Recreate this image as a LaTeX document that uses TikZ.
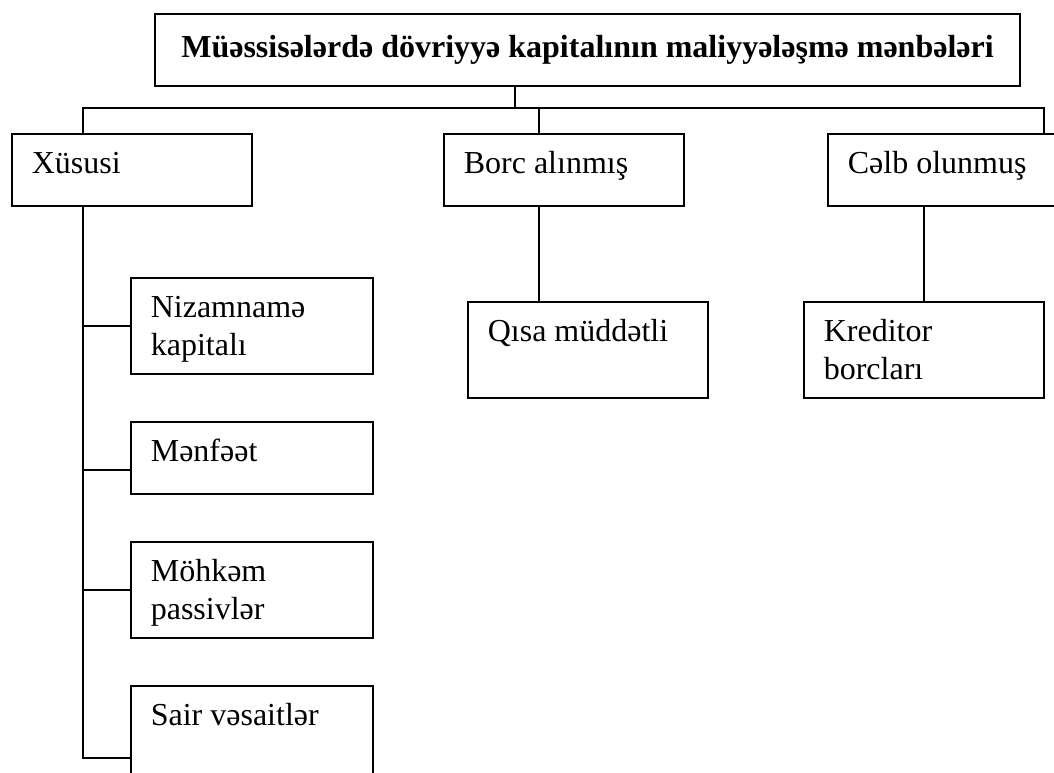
\documentclass[tikz,border=0pt]{standalone}
\usepackage{fontspec}
\setmainfont{Liberation Serif}
\usetikzlibrary{calc}

% text block of a box: width, height, text (first baseline 40pt below the top)
\newcommand{\cellbody}[3]{\parbox[t][#2pt][t]{\dimexpr#1pt-40pt\relax}{\raggedright\rule{0pt}{40pt}#3}}

\tikzset{
  cell/.style={draw, line width=1.6pt, anchor=north west, inner xsep=20pt, inner ysep=0pt,
    font=\fontsize{32}{38}\selectfont},
  headbox/.style={draw, line width=2pt, anchor=north west, inner sep=0pt,
    minimum width=865pt, minimum height=72pt, font=\fontsize{32}{38}\selectfont\bfseries},
  wire/.style={line width=1.6pt}
}

\begin{document}
\begin{tikzpicture}[x=1pt,y=-1pt]
  \fill[white] (0,0) rectangle (1054,773);
  \path[use as bounding box, clip] (0,0) rectangle (1054,773);

  % head
  \node[headbox] (title) at (154,13) {\raisebox{4pt}{Müəssisələrdə dövriyyə kapitalının maliyyələşmə mənbələri}};

  % first level
  \node[cell] (xus) at (11,133) {\cellbody{240}{72}{Xüsusi}};
  \node[cell] (borc) at (443,133) {\cellbody{240}{72}{Borc alınmış}};
  \node[cell] (celb) at (827,133) {\cellbody{240}{72}{Cəlb olunmuş}};

  % second level
  \node[cell] (niz) at (130,277) {\cellbody{242}{96}{Nizamnamə\\kapitalı}};
  \node[cell] (menf) at (130,421) {\cellbody{242}{72}{Mənfəət}};
  \node[cell] (mohk) at (130,541) {\cellbody{242}{96}{Möhkəm\\passivlər}};
  \node[cell] (sair) at (130,685) {\cellbody{242}{96}{Sair vəsaitlər}};
  \node[cell] (qisa) at (467,301) {\cellbody{240}{96}{Qısa müddətli}};
  \node[cell] (kred) at (803,301) {\cellbody{240}{96}{Kreditor\\borcları}};

  % connectors
  \coordinate (hub) at (515,108);
  \coordinate (busL) at (83,108);
  \coordinate (busB) at (539,108);
  \coordinate (busR) at (1044,108);
  \draw[wire] (title.south -| hub) -- (hub);
  \draw[wire] (busL |- xus.north) -- (busL) -- (busR) -- (busR |- celb.north);
  \draw[wire] (busB) -- (busB |- borc.north);
  \draw[wire] (busB |- borc.south) -- (busB |- qisa.north);
  \draw[wire] (kred.north |- celb.south) -- (kred.north);
  \draw[wire] (busL |- xus.south) |- ([yshift=-24pt]sair.west);
  \draw[wire] (busL |- niz.west) -- (niz.west);
  \draw[wire] ([yshift=-12pt]menf.west -| busL) -- ([yshift=-12pt]menf.west);
  \draw[wire] (busL |- mohk.west) -- (mohk.west);
\end{tikzpicture}
\end{document}
